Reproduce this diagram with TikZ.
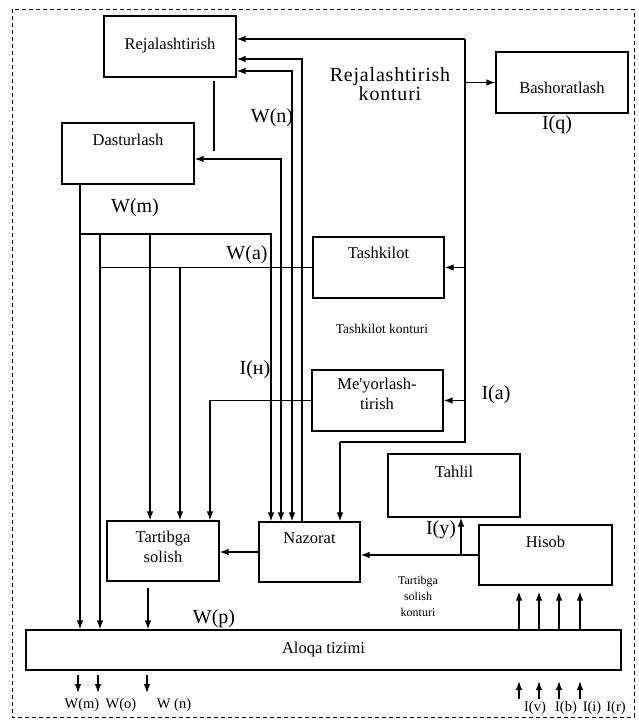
\documentclass[tikz,border=0pt]{standalone}
\usepackage{fontspec}
\setmainfont{Liberation Serif}
\usetikzlibrary{arrows.meta}
\begin{document}
\begin{tikzpicture}[x=1pt,y=-1pt,
  box/.style={draw, line width=1.2pt, rectangle, inner sep=0pt},
  bt/.style={font=\fontsize{16.5}{20}\selectfont, align=center, inner sep=0pt},
  lab/.style={font=\fontsize{20}{16}\selectfont, inner sep=0pt},
  sm/.style={font=\fontsize{13.5}{16}\selectfont, inner sep=0pt, align=center},
  tiny/.style={font=\fontsize{12}{16}\selectfont, inner sep=0pt, align=center},
  bot/.style={font=\fontsize{14.5}{16}\selectfont, inner sep=0pt},
  conn/.style={line width=1.3pt},
  tip/.tip={Latex[length=9pt,width=6.5pt]},
  arr/.style={conn, -tip},
  darr/.style={conn, tip-tip}]
\useasboundingbox (0,0) rectangle (638,722);
\draw[line width=0.6pt, dash pattern=on 4pt off 3pt] (12,9) rectangle (634,717);

% boxes
\node[box, minimum width=132pt, minimum height=61pt] (rej) at (170,46.5) {};
\node[box, minimum width=132pt, minimum height=61pt] (bash) at (562,82.5) {};
\node[box, minimum width=132pt, minimum height=61pt] (dast) at (128,153.5) {};
\node[box, minimum width=131pt, minimum height=61pt] (tash) at (378.5,267.5) {};
\node[box, minimum width=131pt, minimum height=61pt] (mey) at (377.5,400.5) {};
\node[box, minimum width=132pt, minimum height=63pt] (tahlil) at (454,485.5) {};
\node[box, minimum width=101pt, minimum height=60pt] (naz) at (309.5,552) {};
\node[box, minimum width=133pt, minimum height=60pt] (hisob) at (545.5,555) {};
\node[box, minimum width=112pt, minimum height=60pt] (tart) at (163,551) {};
\node[box, minimum width=595pt, minimum height=40pt] (aloqa) at (323.5,650) {};

% box texts
\node[bt] (rejt) at (170,46) {Rejalashtirish};
\node[bt] (basht) at (562,88) {Bashoratlash};
\node[bt] (dastt) at (128,140) {Dasturlash};
\node[bt] (tasht) at (378.5,253) {Tashkilot};
\node[bt] (meyt) at (377,393.5) {Me\textquotesingle yorlash-\\tirish};
\node[bt] (tahlilt) at (454,472) {Tahlil};
\node[bt] (nazt) at (309.5,538) {Nazorat};
\node[bt] (hisobt) at (545.5,542) {Hisob};
\node[bt] (tartt) at (163,547) {Tartibga\\solish};
\node[bt] (aloqat) at (323.5,650) {Aloqa tizimi};

% planning contour
\coordinate (kTR) at (465,39);
\coordinate (kBR) at (465,442);
\coordinate (kBL) at (340,442);
\draw[arr] (kTR) -- (kTR -| rej.east);
\draw[conn] (kTR) -- (kBR) -- (kBL);
\draw[arr] (kBL) -- (kBL |- naz.north);
\draw[arr] (kTR |- bash.west) -- (bash.west);
\draw[arr] (kTR |- tash.east) -- (tash.east);
\draw[arr] (kTR |- mey.east) -- (mey.east);

% verticals to Nazorat
\coordinate (v1) at (302,59);
\coordinate (v2) at (292,71);
\coordinate (v3) at (281,159);
\draw[arr] (v1 |- naz.north) -- (v1) -- (v1 -| rej.east);
\draw[darr] (v2 -| rej.east) -- (v2) -- (v2 |- naz.north);
\draw[darr] (v3 -| dast.east) -- (v3) -- (v3 |- naz.north);

% stray line under Rejalashtirish
\coordinate (s1) at (214,81);
\coordinate (s2) at (214,151);
\draw[conn] (s1) -- (s2);

% W(m) branch
\coordinate (m0) at (80,184);
\coordinate (wm) at (80,234);
\coordinate (wmR) at (271,234);
\draw[arr] (m0) -- (m0 |- aloqa.north);
\draw[arr] (wm) -- (wmR) -- (wmR |- naz.north);
\coordinate (w1) at (100,234);
\coordinate (w2) at (150,234);
\draw[arr] (w1) -- (w1 |- aloqa.north);
\draw[arr] (w2) -- (w2 |- tart.north);
% W(a)
\coordinate (wa) at (100,267.5);
\coordinate (w3) at (180,267.5);
\draw[conn] (tash.west) -- (wa);
\draw[arr] (w3) -- (w3 |- tart.north);
% Me'yorlash
\coordinate (w4) at (210,400.5);
\draw[arr] (mey.west) -- (w4) -- (w4 |- tart.north);

% lower loop
\draw[arr] (naz.west) -- (naz.west -| tart.east);
\draw[arr] (hisob.west) -- (hisob.west -| naz.east);
\coordinate (iy) at (461,555);
\draw[arr] (iy) -- (iy |- tahlil.south);
\coordinate (tp) at (148,588);
\draw[arr] (tp) -- (tp |- aloqa.north);

\foreach \x [count=\i] in {519,539,559,580} {
  \coordinate (ua\i) at (\x,630);
  \draw[arr, shorten >=6pt] (ua\i) -- (ua\i |- hisob.south);
  \coordinate (ub\i) at (\x,699);
  \coordinate (uc\i) at (\x,681);
  \draw[arr] (ub\i) -- (uc\i);
}
\foreach \x [count=\i] in {78,98,147} {
  \coordinate (da\i) at (\x,675);
  \coordinate (db\i) at (\x,693);
  \draw[arr] (da\i) -- (db\i);
}

% labels
\node[lab, align=center, font=\fontsize{20}{16}\selectfont\addfontfeature{LetterSpace=4}] (kont) at (390,84) {Rejalashtirish\\konturi};
\node[lab] (lWn) at (272,118) {W(n)};
\node[lab] (lWm) at (135,208) {W(m)};
\node[lab] (lWa) at (247,255) {W(a)};
\node[lab] (lIn) at (255,370) {I(н)};
\node[sm] (ltk) at (382,329) {Tashkilot konturi};
\node[lab] (lIa) at (496,395) {I(a)};
\node[lab] (lIq) at (557,125) {I(q)};
\node[lab] (lIy) at (441,530) {I(y)};
\node[tiny] (ltsk) at (418,596) {Tartibga\\solish\\konturi};
\node[lab] (lWp) at (214,619) {W(p)};
\node[bot] (bWm) at (82,705) {W(m)};
\node[bot] (bWo) at (121,705) {W(o)};
\node[bot] (bWn) at (174,705) {W (n)};
\node[bot] (bIv) at (535,708) {I(v)};
\node[bot] (bIb) at (566,708) {I(b)};
\node[bot] (bIi) at (592,708) {I(i)};
\node[bot] (bIr) at (616,708) {I(r)};
\end{tikzpicture}
\end{document}
